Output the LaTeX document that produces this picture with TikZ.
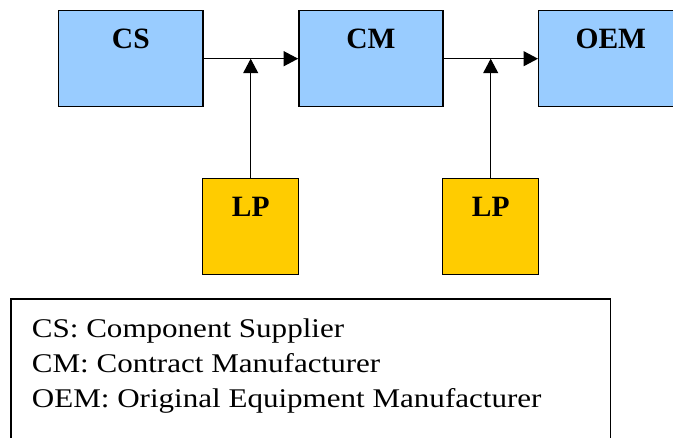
\documentclass[tikz,border=0pt]{standalone}
\usepackage{fontspec}
\setmainfont{Liberation Serif}
\newfontfamily\keyfont[FakeStretch=1.15]{Liberation Serif}
\usetikzlibrary{arrows.meta}
\definecolor{unitblue}{RGB}{153, 204, 255}
\definecolor{lpyellow}{RGB}{255, 204, 0}

\begin{document}
\begin{tikzpicture}[x=1pt, y=-1pt,
    unitbox/.style={draw=black, line width=1.4pt, fill=unitblue, minimum width=144.3pt, minimum height=96pt, inner sep=0pt},
    lpbox/.style={draw=black, line width=1.4pt, fill=lpyellow, minimum width=96pt, minimum height=96pt, inner sep=0pt},
    boxname/.style={font=\bfseries\fontsize{29.5}{29.5}\selectfont, inner sep=0pt, anchor=base, yshift=-38.5pt},
    flow/.style={line width=1.2pt, -{Triangle[length=14.5pt, width=15pt]}},
    keybox/.style={draw=black, line width=1.4pt, minimum width=599.7pt, minimum height=150pt, inner sep=0pt},
    keytext/.style={font=\keyfont\fontsize{27}{35}\selectfont, align=left, inner sep=0pt, anchor=north west}]
  \useasboundingbox (0,0) rectangle (673,438);
  \clip (0,0) rectangle (673,438);

  % chain of units
  \node[unitbox, label={[boxname]north:CS}] (cs) at (130.85,58.7) {};
  \node[unitbox, label={[boxname]north:CM}] (cm) at (371,58.7) {};
  \node[unitbox, label={[boxname]north:OEM}] (oem) at (610.85,58.7) {};

  % logistics providers
  \node[lpbox, label={[boxname]north:LP}] (lpa) at (250.7,226.7) {};
  \node[lpbox, label={[boxname]north:LP}] (lpb) at (490.7,226.7) {};

  \coordinate (joina) at (cs.east -| lpa.north);
  \coordinate (joinb) at (cm.east -| lpb.north);

  \draw[flow] (cs.east) -- (cm.west);
  \draw[flow] (cm.east) -- (oem.west);
  \draw[flow] (lpa.north) -- (joina);
  \draw[flow] (lpb.north) -- (joinb);

  % key
  \node[keybox] (key) at (310.85,374) {};
  \node[keytext] (keylines) at (31.7,318.6) {CS: Component Supplier\\CM: Contract Manufacturer\\OEM: Original Equipment Manufacturer};
\end{tikzpicture}
\end{document}
